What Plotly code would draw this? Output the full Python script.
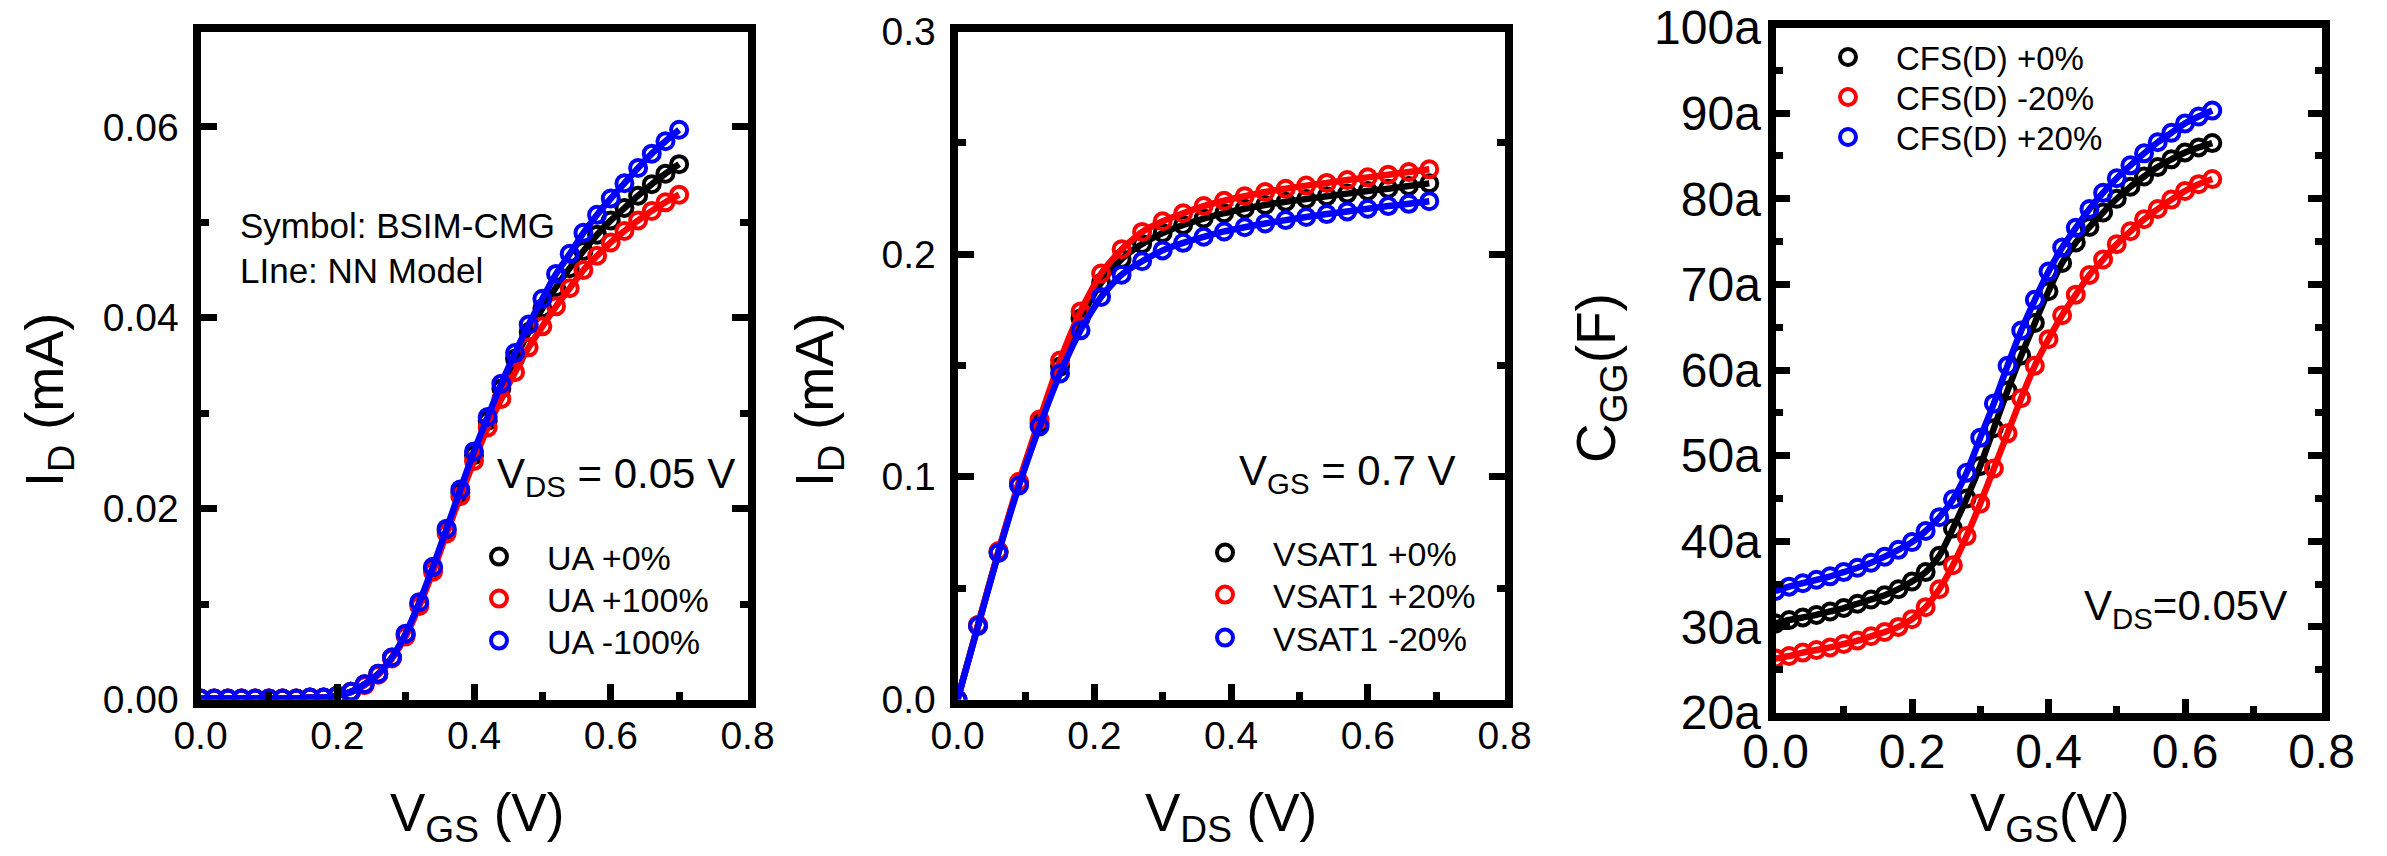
import plotly.graph_objects as go

# ---------------- data ----------------
# Panel 1: I_D vs V_GS at V_DS = 0.05 V
vgs1 = [0.00, 0.02, 0.04, 0.06, 0.08, 0.10, 0.12, 0.14, 0.16, 0.18,
        0.20, 0.22, 0.24, 0.26, 0.28, 0.30, 0.32, 0.34, 0.36, 0.38,
        0.40, 0.42, 0.44, 0.46, 0.48, 0.50, 0.52, 0.54, 0.56, 0.58,
        0.60, 0.62, 0.64, 0.66, 0.68, 0.70]
ua_p0 = [0.0001, 0.0001, 0.0001, 0.0001, 0.0001, 0.0001, 0.0001, 0.0001, 0.0002, 0.0002,
         0.0004, 0.0008, 0.0016, 0.0027, 0.0044, 0.0068, 0.0100, 0.0137, 0.0177, 0.0217,
         0.0256, 0.0292, 0.0326, 0.0357, 0.0385, 0.0410, 0.0432, 0.0452, 0.0470, 0.0487,
         0.0502, 0.0515, 0.0528, 0.0540, 0.0551, 0.0561]
ua_p100 = [0.0001, 0.0001, 0.0001, 0.0001, 0.0001, 0.0001, 0.0001, 0.0001, 0.0002, 0.0002,
           0.0004, 0.0008, 0.0015, 0.0026, 0.0043, 0.0066, 0.0098, 0.0134, 0.0174, 0.0213,
           0.0250, 0.0285, 0.0315, 0.0343, 0.0369, 0.0391, 0.0412, 0.0431, 0.0450, 0.0465,
           0.0479, 0.0491, 0.0502, 0.0512, 0.0521, 0.0529]
ua_m100 = [0.0001, 0.0001, 0.0001, 0.0001, 0.0001, 0.0001, 0.0001, 0.0001, 0.0002, 0.0002,
           0.0004, 0.0008, 0.0016, 0.0027, 0.0044, 0.0069, 0.0102, 0.0139, 0.0179, 0.0220,
           0.0260, 0.0296, 0.0331, 0.0363, 0.0393, 0.0420, 0.0446, 0.0467, 0.0489, 0.0508,
           0.0525, 0.0541, 0.0557, 0.0572, 0.0585, 0.0597]
labels1 = ["UA +0%", "UA +100%", "UA -100%"]

# Panel 2: I_D vs V_DS at V_GS = 0.7 V
vds2 = [0.00, 0.03, 0.06, 0.09, 0.12, 0.15, 0.18, 0.21, 0.24, 0.27, 0.30, 0.33,
        0.36, 0.39, 0.42, 0.45, 0.48, 0.51, 0.54, 0.57, 0.60, 0.63, 0.66, 0.69]
vsat_p0 = [0.0, 0.0333, 0.0663, 0.0970, 0.1242, 0.1495, 0.1711, 0.1871, 0.1978, 0.2046,
           0.2095, 0.2131, 0.2160, 0.2184, 0.2204, 0.2221, 0.2235, 0.2248, 0.2260, 0.2272,
           0.2284, 0.2294, 0.2306, 0.2318]
vsat_p20 = [0.0, 0.0335, 0.0667, 0.0978, 0.1257, 0.1522, 0.1743, 0.1913, 0.2022, 0.2100,
            0.2148, 0.2184, 0.2216, 0.2240, 0.2260, 0.2279, 0.2294, 0.2308, 0.2320, 0.2333,
            0.2345, 0.2357, 0.2369, 0.2381]
vsat_m20 = [0.0, 0.0330, 0.0658, 0.0961, 0.1226, 0.1464, 0.1658, 0.1808, 0.1908, 0.1968,
            0.2017, 0.2051, 0.2078, 0.2102, 0.2121, 0.2138, 0.2153, 0.2167, 0.2180, 0.2192,
            0.2204, 0.2216, 0.2226, 0.2238]
labels2 = ["VSAT1 +0%", "VSAT1 +20%", "VSAT1 -20%"]

# Panel 3: C_GG (aF) vs V_GS at V_DS = 0.05 V
vgs3 = [0.00, 0.02, 0.04, 0.06, 0.08, 0.10, 0.12, 0.14, 0.16, 0.18, 0.20,
        0.22, 0.24, 0.26, 0.28, 0.30, 0.32, 0.34, 0.36, 0.38, 0.40, 0.42,
        0.44, 0.46, 0.48, 0.50, 0.52, 0.54, 0.56, 0.58, 0.60, 0.62, 0.64]
cfs_p0 = [30.4, 30.8, 31.1, 31.4, 31.8, 32.2, 32.7, 33.2, 33.7, 34.4, 35.3,
          36.4, 38.3, 41.5, 45.0, 48.8, 53.2, 57.6, 61.7, 65.5, 69.2, 72.5,
          74.9, 76.7, 78.4, 80.0, 81.4, 82.6, 83.7, 84.6, 85.4, 86.0, 86.5]
cfs_m20 = [26.3, 26.6, 27.0, 27.3, 27.6, 28.0, 28.4, 28.9, 29.4, 30.0, 30.9,
           32.3, 34.4, 37.2, 40.6, 44.4, 48.5, 52.6, 56.7, 60.5, 63.6, 66.4,
           68.8, 71.1, 72.9, 74.7, 76.2, 77.6, 78.8, 79.9, 80.9, 81.7, 82.3]
cfs_p20 = [34.2, 34.7, 35.1, 35.5, 35.9, 36.4, 36.9, 37.5, 38.2, 39.0, 39.9,
           41.2, 42.8, 44.9, 48.0, 52.1, 56.1, 60.5, 64.6, 68.2, 71.5, 74.3,
           76.6, 78.8, 80.7, 82.4, 83.9, 85.3, 86.6, 87.7, 88.8, 89.6, 90.3]
labels3 = ["CFS(D) +0%", "CFS(D) -20%", "CFS(D) +20%"]

colors = ["#000000", "#ff0000", "#0000ff"]

# ---------------- figure ----------------
W, H = 2387, 856
FONT = "Liberation Sans, Arial, sans-serif"


def px(x):
    return x / W


def py(y):
    return 1 - y / H


fig = go.Figure()

# legend placement per panel: (left edge px, [row centres px], font size)
legend_pos = [
    (451, [557, 599, 641], 34),
    (1177, [553, 595, 638], 34),
    (1800, [57, 97, 137], 33),
]

panels = [
    ("x", "y", vgs1, [ua_p0, ua_p100, ua_m100], labels1),
    ("x2", "y2", vds2, [vsat_p0, vsat_p20, vsat_m20], labels2),
    ("x3", "y3", vgs3, [cfs_p0, cfs_m20, cfs_p20], labels3),
]

legend_layout = {}
k = 0
for (xa, ya, xs, series, labels), (lx, rows, lfs) in zip(panels, legend_pos):
    for ys, lab, col, ry in zip(series, labels, colors, rows):
        k += 1
        lg = "legend" if k == 1 else f"legend{k}"
        legend_layout[lg] = dict(
            x=px(lx), y=py(ry), xanchor="left", yanchor="middle",
            bgcolor="rgba(0,0,0,0)", itemwidth=86,
            font=dict(family=FONT, size=lfs, color="black"))
        fig.add_trace(go.Scatter(
            x=xs, y=ys, mode="markers", name=lab, legend=lg,
            xaxis=xa, yaxis=ya,
            marker=dict(symbol="circle-open", size=16, color=col,
                        line=dict(width=4, color=col)),
        ))
        fig.add_trace(go.Scatter(
            x=xs, y=ys, mode="lines", showlegend=False,
            xaxis=xa, yaxis=ya,
            line=dict(color=col, width=6.5, shape="spline", smoothing=0.6),
        ))


def axis_style(domain, rng, dtick, minor_dtick, mirror, fsize, standoff, anchor,
               fmt=None, suffix="", ticklen=16, minorlen=8):
    d = dict(
        domain=domain, range=rng, anchor=anchor, automargin=False,
        showgrid=False, zeroline=False,
        showline=True, linecolor="black", linewidth=8, mirror=mirror,
        ticks="inside", ticklen=ticklen, tickwidth=7, tickcolor="black",
        tick0=0, dtick=dtick, ticksuffix=suffix,
        minor=dict(ticks="inside", ticklen=minorlen, tickwidth=7, tickcolor="black",
                   dtick=minor_dtick, showgrid=False),
        tickfont=dict(family=FONT, size=fsize, color="black"),
        ticklabelstandoff=standoff, ticklabeloverflow="allow",
    )
    if fmt:
        d["tickformat"] = fmt
    return d


y12 = [py(699.5), py(31.5)]
y3 = [py(712.5), py(27.5)]

fig.update_layout(
    width=W, height=H,
    margin=dict(l=0, r=0, t=0, b=0, autoexpand=False),
    paper_bgcolor="white", plot_bgcolor="white",
    font=dict(family=FONT, color="black"),
    xaxis=axis_style([px(200.5), px(747.5)], [0, 0.8], 0.2, 0.1, True, 39, -5, "y", ".1f"),
    yaxis=axis_style(y12, [0, 0.07], 0.02, 0.01, "ticks", 39, 6, "x", ".2f"),
    xaxis2=axis_style([px(957.5), px(1504.5)], [0, 0.8], 0.2, 0.1, True, 39, -5, "y2", ".1f"),
    yaxis2=axis_style(y12, [0, 0.3], 0.1, 0.05, "ticks", 39, 6, "x2", ".1f"),
    xaxis3=axis_style([px(1775.5), px(2321.5)], [0, 0.8], 0.2, 0.1, True, 48, -10, "y3", ".1f",
                      ticklen=14, minorlen=7),
    yaxis3=axis_style(y3, [20, 100], 10, 5, "ticks", 48, -3, "x3", None, "a",
                      ticklen=14, minorlen=7),
    showlegend=True,
    **legend_layout,
)

ann = []


def add_text(text, x, y, size, xanchor="left", yanchor="middle", angle=0):
    ann.append(dict(text=text, x=px(x), y=py(y), xref="paper", yref="paper",
                    xanchor=xanchor, yanchor=yanchor, showarrow=False,
                    textangle=angle,
                    font=dict(family=FONT, size=size, color="black")))


# panel annotations
add_text("Symbol: BSIM-CMG", 238, 226, 35)
add_text("LIne: NN Model", 238, 270, 35)
add_text("V<sub>DS</sub> = 0.05 V", 495, 476, 42)
add_text("V<sub>GS</sub> = 0.7 V", 1237, 473, 42)
add_text("V<sub>DS</sub>=0.05V", 2082, 608, 42)

# axis titles
add_text("V<sub>GS</sub> (V)", 477, 816, 53, xanchor="center")
add_text("V<sub>DS</sub> (V)", 1231, 816, 53, xanchor="center")
add_text("V<sub>GS</sub>(V)", 2050, 816, 53, xanchor="center")
add_text("I<sub>D</sub> (mA)", 48, 400, 54, xanchor="center", angle=-90)
add_text("I<sub>D</sub> (mA)", 818, 400, 54, xanchor="center", angle=-90)
add_text("C<sub>GG</sub>(F)", 1600, 378, 55, xanchor="center", angle=-90)

fig.update_layout(annotations=ann)

fig.write_html("out.html", config={"displayModeBar": False},
               post_script="document.body.style.margin='0';")
